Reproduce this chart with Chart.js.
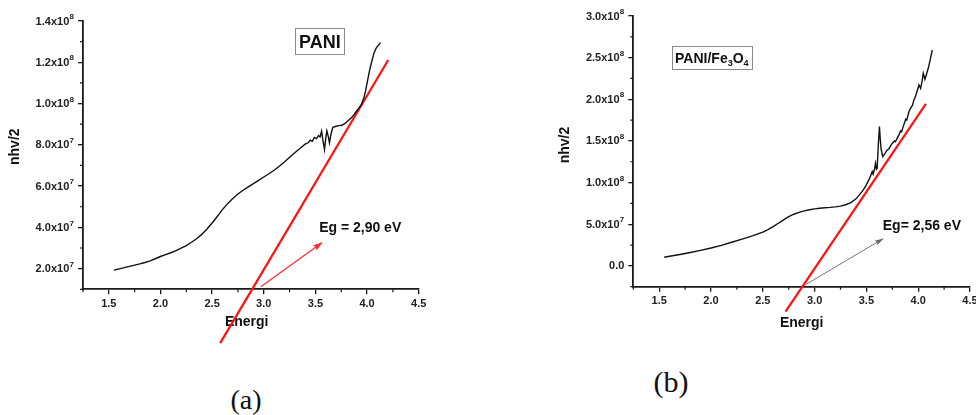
<!DOCTYPE html>
<html><head><meta charset="utf-8">
<script src="https://cdn.jsdelivr.net/npm/chart.js@4.4.1/dist/chart.umd.min.js"></script>
<style>
html,body{margin:0;padding:0;width:976px;height:415px;overflow:hidden;background:#fff;}
#wrap{position:relative;width:976px;height:415px;overflow:hidden;}
canvas{position:absolute;top:0;}
.lab{position:absolute;font-family:"Liberation Serif","Times New Roman",serif;line-height:1;transform:translate(-50%,-50%);color:#111;white-space:nowrap;}
</style></head>
<body><div id="wrap">
<canvas id="ca" width="460" height="350" style="left:0;width:460px;height:350px"></canvas>
<canvas id="cb" width="500" height="350" style="left:500px;width:500px;height:350px"></canvas>
<div class="lab" style="left:246px;top:400px;font-size:28px">(a)</div>
<div class="lab" style="left:671px;top:382px;font-size:30px">(b)</div>
</div>
<script>
// ---------- data ----------
const paniE = [1.549,1.60,1.65,1.70,1.75,1.80,1.85,1.90,1.95,2.00,2.05,2.10,2.15,2.20,2.25,2.30,2.35,2.40,2.45,2.50,2.55,2.60,2.65,2.70,2.75,2.80,2.85,2.90,2.95,3.00,3.05,3.10,3.15,3.20,3.25,3.30,3.35,3.40,3.43,3.45,3.47,3.49,3.51,3.53,3.545,3.56,3.575,3.588,3.60,3.611,3.625,3.636,3.65,3.669,3.70,3.73,3.757,3.79,3.821,3.85,3.87,3.89,3.919,3.945,3.967,3.985,4.006,4.02,4.032,4.05,4.065,4.09,4.11,4.13];
const paniY = [1.93e7,1.99e7,2.05e7,2.11e7,2.17e7,2.23e7,2.30e7,2.38e7,2.48e7,2.59e7,2.68e7,2.77e7,2.87e7,2.99e7,3.12e7,3.28e7,3.45e7,3.66e7,3.92e7,4.21e7,4.53e7,4.86e7,5.15e7,5.40e7,5.62e7,5.80e7,5.96e7,6.12e7,6.28e7,6.44e7,6.60e7,6.77e7,6.96e7,7.17e7,7.40e7,7.62e7,7.82e7,8.03e7,8.10e7,8.23e7,8.17e7,8.36e7,8.30e7,8.45e7,8.38e7,8.66e7,8.15e7,7.78e7,8.30e7,8.68e7,8.40e7,8.10e7,8.50e7,8.85e7,8.90e7,8.93e7,8.95e7,9.05e7,9.19e7,9.32e7,9.44e7,9.58e7,9.76e7,9.95e7,1.024e8,1.06e8,1.113e8,1.15e8,1.177e8,1.212e8,1.242e8,1.27e8,1.283e8,1.295e8];

const feE = [1.548,1.60,1.70,1.80,1.90,2.00,2.10,2.20,2.30,2.40,2.50,2.55,2.60,2.65,2.70,2.75,2.80,2.85,2.90,2.95,3.00,3.05,3.10,3.15,3.20,3.25,3.30,3.35,3.40,3.43,3.46,3.49,3.523,3.54,3.556,3.565,3.578,3.588,3.597,3.604,3.615,3.626,3.634,3.642,3.658,3.68,3.70,3.72,3.733,3.75,3.77,3.78,3.80,3.813,3.83,3.84,3.86,3.88,3.89,3.91,3.93,3.945,3.958,3.975,3.99,4.007,4.023,4.035,4.049,4.065,4.08,4.097,4.115,4.136];
const feY = [1.04e7,1.15e7,1.37e7,1.60e7,1.86e7,2.14e7,2.46e7,2.84e7,3.22e7,3.60e7,4.05e7,4.35e7,4.72e7,5.12e7,5.52e7,5.90e7,6.20e7,6.42e7,6.60e7,6.74e7,6.85e7,6.92e7,6.98e7,7.02e7,7.08e7,7.18e7,7.34e7,7.60e7,8.05e7,8.50e7,8.95e7,9.50e7,1.032e8,1.08e8,1.132e8,1.10e8,1.16e8,1.232e8,1.16e8,1.172e8,1.45e8,1.672e8,1.52e8,1.40e8,1.312e8,1.35e8,1.39e8,1.41e8,1.44e8,1.47e8,1.50e8,1.49e8,1.54e8,1.57e8,1.62e8,1.61e8,1.69e8,1.76e8,1.75e8,1.85e8,1.90e8,1.93e8,1.99e8,2.04e8,2.10e8,2.172e8,2.132e8,2.20e8,2.312e8,2.24e8,2.30e8,2.372e8,2.47e8,2.592e8];

const fitAE = [2.578, 4.205];
const fitAY = [-1.61e7, 1.211e8];
const arrowAE = [2.971, 3.562];
const arrowAY = [1.126e7, 3.255e7];

const fitBE = [2.719, 4.074];
const fitBY = [-5.48e7, 1.944e8];
const arrowBE = [2.910, 3.658];
const arrowBY = [-2.28e7, 3.24e7];

const xTicks = [1.5, 2.0, 2.5, 3.0, 3.5, 4.0, 4.5];
const xTickLabels = ['1.5','2.0','2.5','3.0','3.5','4.0','4.5'];
const xMinor = [1.25, 1.75, 2.25, 2.75, 3.25, 3.75, 4.25];

const yTicksA = [2e7, 4e7, 6e7, 8e7, 1e8, 1.2e8, 1.4e8];
const yTickLabelsA = ['2.0x10^7','4.0x10^7','6.0x10^7','8.0x10^7','1.0x10^8','1.2x10^8','1.4x10^8'];
const yMinorA = [1e7, 3e7, 5e7, 7e7, 9e7, 1.1e8, 1.3e8];

const yTicksB = [0, 5e7, 1e8, 1.5e8, 2e8, 2.5e8, 3e8];
const yTickLabelsB = ['0.0','5.0x10^7','1.0x10^8','1.5x10^8','2.0x10^8','2.5x10^8','3.0x10^8'];
const yMinorB = [-2.5e7, 2.5e7, 7.5e7, 1.25e8, 1.75e8, 2.25e8, 2.75e8];

// ---------- helpers ----------
const zip = (xs, ys) => xs.map((x, i) => ({x, y: ys[i]}));
const SANS = '"Liberation Sans", Arial, sans-serif';
const AXIS = '#1a1a1a';

const annotPlugin = {
  id: 'annot',
  beforeDatasetsDraw(chart, args, o) {
    const ctx = chart.ctx;
    const xs = chart.scales.x, ys = chart.scales.y;
    const ca = chart.chartArea;
    ctx.save();
    ctx.fillStyle = '#111';
    ctx.font = 'bold 14px ' + SANS;
    ctx.textAlign = 'center';
    ctx.textBaseline = 'middle';
    ctx.fillText(o.xTitle.text, o.xTitle.px, o.xTitle.py);
    ctx.translate(o.yTitle.px, o.yTitle.py);
    ctx.rotate(-Math.PI / 2);
    ctx.fillText(o.yTitle.text, 0, 0);
    ctx.restore();
    // y tick labels with superscript exponents
    ctx.save();
    ctx.fillStyle = '#222';
    ctx.textBaseline = 'middle';
    ctx.textAlign = 'right';
    o.yTicks.forEach((v, i) => {
      const py = ys.getPixelForValue(v);
      const parts = o.yLabels[i].split('^');
      let xr = ca.left - 5 - 4;
      if (parts.length > 1) {
        ctx.font = 'bold 8px ' + SANS;
        ctx.fillText(parts[1], xr, py - 4);
        xr -= ctx.measureText(parts[1]).width + 0.3;
      }
      ctx.font = 'bold 11px ' + SANS;
      ctx.fillText(parts[0], xr, py + 0.5);
    });
    ctx.restore();
    // minor ticks
    ctx.save();
    ctx.strokeStyle = AXIS;
    ctx.lineWidth = 1.2;
    ctx.beginPath();
    o.xMinor.forEach(v => {
      const p = xs.getPixelForValue(v);
      ctx.moveTo(p, ca.bottom);
      ctx.lineTo(p, ca.bottom + 3);
    });
    o.yMinor.forEach(v => {
      const p = ys.getPixelForValue(v);
      ctx.moveTo(ca.left, p);
      ctx.lineTo(ca.left - 3, p);
    });
    ctx.stroke();
    ctx.restore();
  },
  afterDatasetsDraw(chart, args, o) {
    const ctx = chart.ctx;
    const xs = chart.scales.x, ys = chart.scales.y;
    // arrowheads
    chart.data.datasets.forEach((ds, i) => {
      if (!ds.arrow) return;
      const pts = chart.getDatasetMeta(i).data;
      const a = pts[pts.length - 2], b = pts[pts.length - 1];
      const ang = Math.atan2(b.y - a.y, b.x - a.x);
      const L = ds.headLen, W = ds.headWidth;
      ctx.save();
      ctx.translate(b.x, b.y);
      ctx.rotate(ang);
      ctx.fillStyle = ds.borderColor;
      ctx.beginPath();
      ctx.moveTo(1, 0);
      ctx.lineTo(-L, -W);
      ctx.lineTo(-L * 0.8, 0);
      ctx.lineTo(-L, W);
      ctx.closePath();
      ctx.fill();
      ctx.restore();
    });
    // box label
    const bx = o.box;
    const cx = xs.getPixelForValue(bx.x), cy = ys.getPixelForValue(bx.y);
    ctx.save();
    ctx.fillStyle = '#fff';
    ctx.fillRect(cx - bx.w / 2, cy - bx.h / 2, bx.w, bx.h);
    ctx.strokeStyle = '#8a8a8a';
    ctx.lineWidth = 1;
    ctx.strokeRect(Math.round(cx - bx.w / 2) + 0.5, Math.round(cy - bx.h / 2) + 0.5, Math.round(bx.w), Math.round(bx.h));
    ctx.fillStyle = '#111';
    ctx.textBaseline = 'alphabetic';
    let total = 0;
    bx.runs.forEach(r => { ctx.font = 'bold ' + r.size + 'px ' + SANS; total += ctx.measureText(r.t).width; });
    let x0 = cx - total / 2;
    bx.runs.forEach(r => {
      ctx.font = 'bold ' + r.size + 'px ' + SANS;
      ctx.textAlign = 'left';
      ctx.fillText(r.t, x0, cy + bx.base + (r.dy || 0));
      x0 += ctx.measureText(r.t).width;
    });
    ctx.restore();
    // Eg text
    const t = o.eg;
    ctx.save();
    ctx.fillStyle = '#111';
    ctx.font = 'bold 14px ' + SANS;
    ctx.textAlign = 'left';
    ctx.textBaseline = 'middle';
    ctx.fillText(t.text, xs.getPixelForValue(t.x), ys.getPixelForValue(t.y));
    ctx.restore();
  }
};

function makeChart(id, c) {
  return new Chart(document.getElementById(id), {
    type: 'scatter',
    data: {
      datasets: [
        {data: zip(c.curveE, c.curveY), showLine: true, borderColor: '#111', borderWidth: 1.4, pointRadius: 0, tension: 0},
        {data: zip(c.fitE, c.fitY), showLine: true, borderColor: '#ff1010', borderWidth: 2.2, pointRadius: 0, clip: false},
        {data: zip(c.arrE, c.arrY), showLine: true, borderColor: c.arrColor, borderWidth: c.arrWidth, pointRadius: 0, arrow: true, headLen: c.headLen, headWidth: c.headWidth}
      ]
    },
    options: {
      responsive: false,
      animation: false,
      events: [],
      layout: {padding: {top: c.padTop, right: c.padRight, left: 0, bottom: 0}},
      plugins: {
        legend: {display: false},
        tooltip: {enabled: false},
        annot: c.annot
      },
      scales: {
        x: {
          type: 'linear', min: c.xMin, max: c.xMax,
          afterFit: s => { s.height = c.xHeight; },
          afterBuildTicks: s => { s.ticks = xTicks.map(v => ({value: v})); },
          ticks: {
            autoSkip: false, maxRotation: 0, padding: 3, color: '#222',
            font: {family: SANS, size: 11, weight: 'bold'},
            callback: v => xTickLabels[xTicks.indexOf(v)]
          },
          grid: {drawOnChartArea: false, drawTicks: true, tickLength: 5, color: AXIS, lineWidth: 1.3},
          border: {display: true, color: AXIS, width: 1.8}
        },
        y: {
          type: 'linear', min: c.yMin, max: c.yMax,
          afterFit: s => { s.width = c.yWidth; },
          afterBuildTicks: s => { s.ticks = c.yTicks.map(v => ({value: v})); },
          ticks: {display: false},
          grid: {drawOnChartArea: false, drawTicks: true, tickLength: 5, color: AXIS, lineWidth: 1.3},
          border: {display: true, color: AXIS, width: 1.8}
        }
      }
    },
    plugins: [annotPlugin]
  });
}

makeChart('ca', {
  curveE: paniE, curveY: paniY, fitE: fitAE, fitY: fitAY, arrE: arrowAE, arrY: arrowAY,
  arrColor: '#ff2a2a', arrWidth: 1.2, headLen: 9, headWidth: 3.2,
  xMin: 1.25, xMax: 4.5, yMin: 1e7, yMax: 1.4e8,
  yTicks: yTicksA, yLabels: yTickLabelsA,
  padTop: 21, padRight: 41.3, xHeight: 60.7, yWidth: 83,
  annot: {
    xTitle: {text: 'Energi', px: 246.7, py: 322.5},
    yTitle: {text: 'nhv/2', px: 15, py: 146.7},
    xMinor: xMinor, yMinor: yMinorA,
    yTicks: yTicksA, yLabels: yTickLabelsA,
    box: {x: 3.543, y: 1.303e8, w: 49, h: 26.3, base: 6.5, runs: [{t: 'PANI', size: 18}]},
    eg: {text: 'Eg = 2,90 eV', x: 3.536, y: 3.98e7}
  }
});

makeChart('cb', {
  curveE: feE, curveY: feY, fitE: fitBE, fitY: fitBY, arrE: arrowBE, arrY: arrowBY,
  arrColor: '#666666', arrWidth: 0.9, headLen: 8, headWidth: 2.6,
  xMin: 1.25, xMax: 4.5, yMin: -2.5e7, yMax: 3e8,
  yTicks: yTicksB, yLabels: yTickLabelsB,
  padTop: 16, padRight: 30, xHeight: 63.3, yWidth: 133.3,
  annot: {
    xTitle: {text: 'Energi', px: 301.7, py: 323},
    yTitle: {text: 'nhv/2', px: 65, py: 145},
    xMinor: xMinor, yMinor: yMinorB,
    yTicks: yTicksB, yLabels: yTickLabelsB,
    box: {x: 2.008, y: 2.5e8, w: 79.7, h: 23.3, base: 5, runs: [{t: 'PANI/Fe', size: 14}, {t: '3', size: 9, dy: 3}, {t: 'O', size: 14}, {t: '4', size: 9, dy: 3}]},
    eg: {text: 'Eg= 2,56 eV', x: 3.658, y: 4.8e7}
  }
});
</script>
</body></html>
